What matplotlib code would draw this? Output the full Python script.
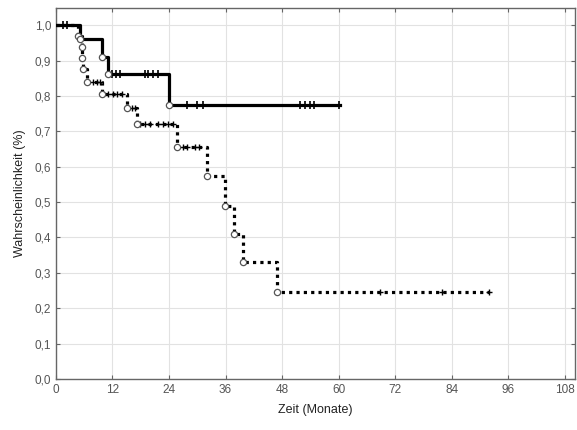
import matplotlib
matplotlib.use("Agg")
import matplotlib.pyplot as plt
import numpy as np

plt.rcParams['font.family'] = ['Liberation Sans', 'DejaVu Sans']

# Group 1 (solid)
g1_times = [0, 5.1, 9.8, 11.0, 24.0, 60.3]
g1_surv = [1.0, 0.962, 0.91, 0.862, 0.774, 0.774]
g1_events_t = [5.1, 9.8, 11.0, 24.0]
g1_events_s = [0.962, 0.91, 0.862, 0.774]
g1_cens_t = [1.5, 2.4, 11.8, 12.7, 13.6, 18.9, 19.6, 20.6, 21.7, 27.8, 29.9, 31.3, 51.8, 52.9, 54.0, 54.8, 60.0]
g1_cens_s = [1.0, 1.0, 0.862, 0.862, 0.862, 0.862, 0.862, 0.862, 0.862,
             0.774, 0.774, 0.774, 0.774, 0.774, 0.774, 0.774, 0.774]

# Group 2 (dotted)
g2_times = [0, 4.7, 5.5, 5.6, 5.8, 6.6, 9.7, 15.0, 17.1, 25.7, 32.0, 35.9, 37.8, 39.8, 47.0, 92.0]
g2_surv = [1.0, 0.969, 0.939, 0.906, 0.875, 0.84, 0.805, 0.765, 0.72, 0.656, 0.575, 0.49, 0.41, 0.33, 0.247, 0.247]
g2_events_t = [4.7, 5.5, 5.6, 5.8, 6.6, 9.7, 15.0, 17.1, 25.7, 32.0, 35.9, 37.8, 39.8, 47.0]
g2_events_s = [0.969, 0.939, 0.906, 0.875, 0.84, 0.805, 0.765, 0.72, 0.656, 0.575, 0.49, 0.41, 0.33, 0.247]
g2_cens_t = [7.9, 8.7, 9.3, 11.0, 12.1, 13.0, 14.0, 16.1, 16.8, 17.8, 18.9, 20.0, 21.7, 22.7, 23.8, 24.9,
             27.0, 27.9, 29.5, 30.4, 68.8, 81.9, 92.0]
g2_cens_s = [0.84, 0.84, 0.84, 0.805, 0.805, 0.805, 0.805, 0.765, 0.765, 0.72, 0.72, 0.72, 0.72, 0.72, 0.72, 0.72,
             0.656, 0.656, 0.656, 0.656, 0.247, 0.247, 0.247]

x_ticks = [0, 12, 24, 36, 48, 60, 72, 84, 96, 108]
y_ticks = [0.0, 0.1, 0.2, 0.3, 0.4, 0.5, 0.6, 0.7, 0.8, 0.9, 1.0]
y_ticklabels = ['0,0', '0,1', '0,2', '0,3', '0,4', '0,5', '0,6', '0,7', '0,8', '0,9', '1,0']

fig = plt.figure(figsize=(5.77, 4.30), dpi=100)
ax = fig.add_axes([0.097, 0.1186, 0.8995, 0.8624])

ax.step(g2_times, g2_surv, where='post', color='black', lw=2.3,
        linestyle=(0, (1, 1.3)), dash_capstyle='butt', zorder=3)
ax.step(g1_times, g1_surv, where='post', color='black', lw=2.3, zorder=4)

ax.plot(g2_cens_t, g2_cens_s, linestyle='none', marker='+', ms=5, mew=1.0, color='black', zorder=5)
ax.plot(g1_cens_t, g1_cens_s, linestyle='none', marker='|', ms=6, mew=1.2, color='black', zorder=5)
ax.plot(g2_events_t, g2_events_s, linestyle='none', marker='o', ms=4.5, mfc='white', mec='#555555', mew=0.9, zorder=6)
ax.plot(g1_events_t, g1_events_s, linestyle='none', marker='o', ms=4.5, mfc='white', mec='#555555', mew=0.9, zorder=6)

ax.set_xlim(0, 110.2)
ax.set_ylim(0, 1.048)
ax.set_xticks(x_ticks)
ax.set_yticks(y_ticks)
ax.set_yticklabels(y_ticklabels)
ax.grid(True, color='#e2e2e2', lw=0.8)
ax.set_axisbelow(True)
ax.tick_params(direction='in', length=3, width=0.8, color='#666666', labelcolor='#555555',
               labelsize=8.5, top=True, right=True)
for s in ax.spines.values():
    s.set_color('#666666')
    s.set_linewidth(1.0)

ax.set_xlabel('Zeit (Monate)', fontsize=9, color='#222222', labelpad=6)
ax.set_ylabel('Wahrscheinlichkeit (%)', fontsize=9, color='#222222', labelpad=6)

fig.savefig('out.png', dpi=100)
